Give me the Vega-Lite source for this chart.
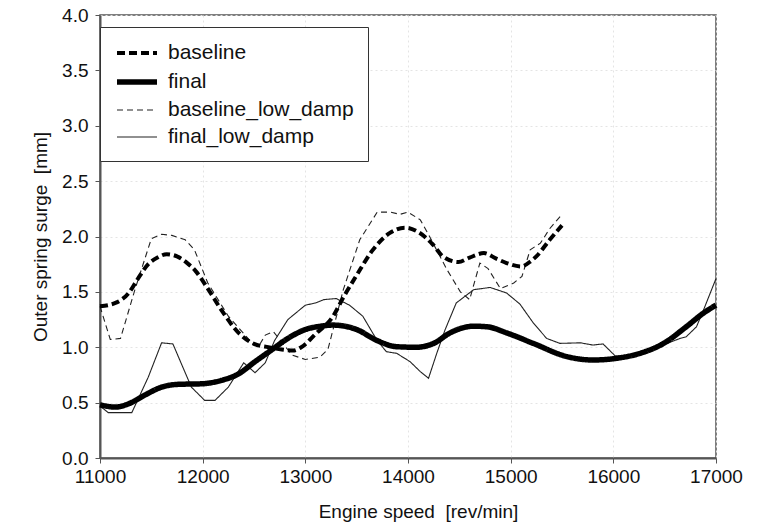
{
  "$schema": "https://vega.github.io/schema/vega-lite/v6.json",
  "width": 616,
  "height": 443,
  "autosize": {"type": "none"},
  "padding": {"left": 100, "top": 15, "right": 49, "bottom": 70},
  "background": "white",
  "config": {
    "font": "Liberation Sans",
    "view": {"stroke": "#555", "strokeWidth": 1.5},
    "axis": {
      "domainColor": "#555",
      "domainWidth": 2,
      "tickColor": "#555",
      "tickSize": 5,
      "labelColor": "#111",
      "labelFontSize": 19,
      "labelFlush": false,
      "titleColor": "#111",
      "titleFontSize": 19,
      "titleFontWeight": "normal",
      "grid": true,
      "gridColor": "#e4e4e4",
      "gridDash": [2, 3]
    },
    "legend": {
      "orient": "none",
      "legendX": 0,
      "legendY": 12,
      "padding": 14,
      "strokeColor": "#333",
      "fillColor": "white",
      "labelFontSize": 21,
      "labelColor": "#111",
      "labelLimit": 400,
      "symbolType": "M-1,0H3",
      "symbolSize": 400,
      "labelOffset": 28,
      "rowPadding": 6
    }
  },
  "data": {
    "values": [
      {"s": "baseline", "rpm": 11000, "v": 1.37},
      {"s": "baseline", "rpm": 11150, "v": 1.40},
      {"s": "baseline", "rpm": 11280, "v": 1.49},
      {"s": "baseline", "rpm": 11370, "v": 1.62},
      {"s": "baseline", "rpm": 11470, "v": 1.75},
      {"s": "baseline", "rpm": 11560, "v": 1.81},
      {"s": "baseline", "rpm": 11650, "v": 1.84},
      {"s": "baseline", "rpm": 11750, "v": 1.82},
      {"s": "baseline", "rpm": 11850, "v": 1.76},
      {"s": "baseline", "rpm": 11930, "v": 1.69},
      {"s": "baseline", "rpm": 12050, "v": 1.53},
      {"s": "baseline", "rpm": 12180, "v": 1.34},
      {"s": "baseline", "rpm": 12350, "v": 1.13},
      {"s": "baseline", "rpm": 12500, "v": 1.03},
      {"s": "baseline", "rpm": 12640, "v": 1.00},
      {"s": "baseline", "rpm": 12770, "v": 0.98},
      {"s": "baseline", "rpm": 12880, "v": 0.97},
      {"s": "baseline", "rpm": 12960, "v": 1.00},
      {"s": "baseline", "rpm": 13100, "v": 1.12},
      {"s": "baseline", "rpm": 13270, "v": 1.28},
      {"s": "baseline", "rpm": 13370, "v": 1.45},
      {"s": "baseline", "rpm": 13500, "v": 1.65},
      {"s": "baseline", "rpm": 13650, "v": 1.87},
      {"s": "baseline", "rpm": 13820, "v": 2.03},
      {"s": "baseline", "rpm": 13970, "v": 2.08},
      {"s": "baseline", "rpm": 14100, "v": 2.04},
      {"s": "baseline", "rpm": 14240, "v": 1.93},
      {"s": "baseline", "rpm": 14340, "v": 1.82},
      {"s": "baseline", "rpm": 14490, "v": 1.77},
      {"s": "baseline", "rpm": 14600, "v": 1.81},
      {"s": "baseline", "rpm": 14740, "v": 1.85},
      {"s": "baseline", "rpm": 14860, "v": 1.80},
      {"s": "baseline", "rpm": 14960, "v": 1.76},
      {"s": "baseline", "rpm": 15100, "v": 1.73},
      {"s": "baseline", "rpm": 15200, "v": 1.78},
      {"s": "baseline", "rpm": 15250, "v": 1.82},
      {"s": "baseline", "rpm": 15380, "v": 1.97},
      {"s": "baseline", "rpm": 15500, "v": 2.10},
      {"s": "final", "rpm": 11000, "v": 0.48},
      {"s": "final", "rpm": 11150, "v": 0.46},
      {"s": "final", "rpm": 11280, "v": 0.49},
      {"s": "final", "rpm": 11440, "v": 0.57},
      {"s": "final", "rpm": 11600, "v": 0.64},
      {"s": "final", "rpm": 11760, "v": 0.665},
      {"s": "final", "rpm": 11990, "v": 0.67},
      {"s": "final", "rpm": 12180, "v": 0.70},
      {"s": "final", "rpm": 12350, "v": 0.76},
      {"s": "final", "rpm": 12510, "v": 0.87},
      {"s": "final", "rpm": 12670, "v": 0.975},
      {"s": "final", "rpm": 12830, "v": 1.08},
      {"s": "final", "rpm": 13000, "v": 1.16},
      {"s": "final", "rpm": 13150, "v": 1.19},
      {"s": "final", "rpm": 13270, "v": 1.20},
      {"s": "final", "rpm": 13500, "v": 1.16},
      {"s": "final", "rpm": 13700, "v": 1.06},
      {"s": "final", "rpm": 13890, "v": 1.005},
      {"s": "final", "rpm": 14080, "v": 1.00},
      {"s": "final", "rpm": 14250, "v": 1.035},
      {"s": "final", "rpm": 14410, "v": 1.13},
      {"s": "final", "rpm": 14640, "v": 1.19},
      {"s": "final", "rpm": 14770, "v": 1.185},
      {"s": "final", "rpm": 14960, "v": 1.13},
      {"s": "final", "rpm": 15220, "v": 1.035},
      {"s": "final", "rpm": 15550, "v": 0.915},
      {"s": "final", "rpm": 15800, "v": 0.885},
      {"s": "final", "rpm": 16030, "v": 0.90},
      {"s": "final", "rpm": 16260, "v": 0.945},
      {"s": "final", "rpm": 16490, "v": 1.035},
      {"s": "final", "rpm": 16710, "v": 1.185},
      {"s": "final", "rpm": 16880, "v": 1.31},
      {"s": "final", "rpm": 17000, "v": 1.38},
      {"s": "baseline_low_damp", "rpm": 11000, "v": 1.37},
      {"s": "baseline_low_damp", "rpm": 11100, "v": 1.07},
      {"s": "baseline_low_damp", "rpm": 11200, "v": 1.08},
      {"s": "baseline_low_damp", "rpm": 11340, "v": 1.52},
      {"s": "baseline_low_damp", "rpm": 11500, "v": 1.98},
      {"s": "baseline_low_damp", "rpm": 11600, "v": 2.02},
      {"s": "baseline_low_damp", "rpm": 11700, "v": 2.01},
      {"s": "baseline_low_damp", "rpm": 11830, "v": 1.97},
      {"s": "baseline_low_damp", "rpm": 11920, "v": 1.88},
      {"s": "baseline_low_damp", "rpm": 12050, "v": 1.58},
      {"s": "baseline_low_damp", "rpm": 12250, "v": 1.28},
      {"s": "baseline_low_damp", "rpm": 12480, "v": 1.04},
      {"s": "baseline_low_damp", "rpm": 12540, "v": 1.00},
      {"s": "baseline_low_damp", "rpm": 12610, "v": 1.11},
      {"s": "baseline_low_damp", "rpm": 12690, "v": 1.14},
      {"s": "baseline_low_damp", "rpm": 12750, "v": 1.07},
      {"s": "baseline_low_damp", "rpm": 12870, "v": 0.93},
      {"s": "baseline_low_damp", "rpm": 13000, "v": 0.89},
      {"s": "baseline_low_damp", "rpm": 13140, "v": 0.91},
      {"s": "baseline_low_damp", "rpm": 13220, "v": 0.98},
      {"s": "baseline_low_damp", "rpm": 13370, "v": 1.52},
      {"s": "baseline_low_damp", "rpm": 13530, "v": 1.97},
      {"s": "baseline_low_damp", "rpm": 13700, "v": 2.22},
      {"s": "baseline_low_damp", "rpm": 13830, "v": 2.22},
      {"s": "baseline_low_damp", "rpm": 13920, "v": 2.20},
      {"s": "baseline_low_damp", "rpm": 14000, "v": 2.22},
      {"s": "baseline_low_damp", "rpm": 14120, "v": 2.15},
      {"s": "baseline_low_damp", "rpm": 14210, "v": 2.00},
      {"s": "baseline_low_damp", "rpm": 14380, "v": 1.70},
      {"s": "baseline_low_damp", "rpm": 14510, "v": 1.50},
      {"s": "baseline_low_damp", "rpm": 14600, "v": 1.43},
      {"s": "baseline_low_damp", "rpm": 14700, "v": 1.76},
      {"s": "baseline_low_damp", "rpm": 14780, "v": 1.71},
      {"s": "baseline_low_damp", "rpm": 14900, "v": 1.53},
      {"s": "baseline_low_damp", "rpm": 15030, "v": 1.58},
      {"s": "baseline_low_damp", "rpm": 15110, "v": 1.64},
      {"s": "baseline_low_damp", "rpm": 15190, "v": 1.88},
      {"s": "baseline_low_damp", "rpm": 15290, "v": 1.94},
      {"s": "baseline_low_damp", "rpm": 15380, "v": 2.07},
      {"s": "baseline_low_damp", "rpm": 15500, "v": 2.20},
      {"s": "final_low_damp", "rpm": 11000, "v": 0.47},
      {"s": "final_low_damp", "rpm": 11080, "v": 0.41},
      {"s": "final_low_damp", "rpm": 11310, "v": 0.41},
      {"s": "final_low_damp", "rpm": 11470, "v": 0.73},
      {"s": "final_low_damp", "rpm": 11600, "v": 1.04},
      {"s": "final_low_damp", "rpm": 11710, "v": 1.03},
      {"s": "final_low_damp", "rpm": 11890, "v": 0.64},
      {"s": "final_low_damp", "rpm": 12020, "v": 0.52},
      {"s": "final_low_damp", "rpm": 12120, "v": 0.52},
      {"s": "final_low_damp", "rpm": 12250, "v": 0.64},
      {"s": "final_low_damp", "rpm": 12400, "v": 0.86},
      {"s": "final_low_damp", "rpm": 12510, "v": 0.77},
      {"s": "final_low_damp", "rpm": 12610, "v": 0.86},
      {"s": "final_low_damp", "rpm": 12700, "v": 1.06},
      {"s": "final_low_damp", "rpm": 12830, "v": 1.25},
      {"s": "final_low_damp", "rpm": 13000, "v": 1.38},
      {"s": "final_low_damp", "rpm": 13100, "v": 1.40},
      {"s": "final_low_damp", "rpm": 13180, "v": 1.43},
      {"s": "final_low_damp", "rpm": 13300, "v": 1.44},
      {"s": "final_low_damp", "rpm": 13430, "v": 1.38},
      {"s": "final_low_damp", "rpm": 13560, "v": 1.28},
      {"s": "final_low_damp", "rpm": 13700, "v": 1.06},
      {"s": "final_low_damp", "rpm": 13790, "v": 0.96},
      {"s": "final_low_damp", "rpm": 13890, "v": 0.945},
      {"s": "final_low_damp", "rpm": 14020, "v": 0.87},
      {"s": "final_low_damp", "rpm": 14120, "v": 0.78},
      {"s": "final_low_damp", "rpm": 14200, "v": 0.72},
      {"s": "final_low_damp", "rpm": 14280, "v": 0.945},
      {"s": "final_low_damp", "rpm": 14360, "v": 1.155},
      {"s": "final_low_damp", "rpm": 14470, "v": 1.40},
      {"s": "final_low_damp", "rpm": 14640, "v": 1.52},
      {"s": "final_low_damp", "rpm": 14800, "v": 1.54},
      {"s": "final_low_damp", "rpm": 14960, "v": 1.49},
      {"s": "final_low_damp", "rpm": 15090, "v": 1.39},
      {"s": "final_low_damp", "rpm": 15220, "v": 1.22},
      {"s": "final_low_damp", "rpm": 15350, "v": 1.08},
      {"s": "final_low_damp", "rpm": 15480, "v": 1.035},
      {"s": "final_low_damp", "rpm": 15680, "v": 1.04},
      {"s": "final_low_damp", "rpm": 15800, "v": 1.02},
      {"s": "final_low_damp", "rpm": 15900, "v": 1.03},
      {"s": "final_low_damp", "rpm": 16020, "v": 0.92},
      {"s": "final_low_damp", "rpm": 16200, "v": 0.93},
      {"s": "final_low_damp", "rpm": 16400, "v": 0.99},
      {"s": "final_low_damp", "rpm": 16650, "v": 1.08},
      {"s": "final_low_damp", "rpm": 16710, "v": 1.095},
      {"s": "final_low_damp", "rpm": 16810, "v": 1.185},
      {"s": "final_low_damp", "rpm": 16880, "v": 1.34},
      {"s": "final_low_damp", "rpm": 17000, "v": 1.62}
    ]
  },
  "encoding": {
    "x": {
      "field": "rpm",
      "type": "quantitative",
      "scale": {"domain": [11000, 17000], "nice": false, "zero": false},
      "axis": {
        "title": "Engine speed\u00a0\u00a0[rev/min]",
        "values": [11000, 12000, 13000, 14000, 15000, 16000, 17000],
        "format": "d",
        "labelPadding": 4,
        "titleY": 44,
        "titleX": 318
      }
    },
    "y": {
      "field": "v",
      "type": "quantitative",
      "scale": {"domain": [0, 4], "nice": false},
      "axis": {
        "title": "Outer spring surge\u00a0\u00a0[mm]",
        "values": [0, 0.5, 1, 1.5, 2, 2.5, 3, 3.5, 4],
        "format": ".1f",
        "labelPadding": 7,
        "titleX": -50
      }
    },
    "color": {
      "field": "s",
      "type": "nominal",
      "scale": {
        "domain": ["baseline", "final", "baseline_low_damp", "final_low_damp"],
        "range": ["#000000", "#000000", "#222222", "#222222"]
      },
      "legend": {"title": null}
    },
    "strokeDash": {
      "field": "s",
      "type": "nominal",
      "scale": {
        "type": "ordinal",
        "domain": ["baseline", "final", "baseline_low_damp", "final_low_damp"],
        "range": [[8, 4], [1, 0], [6, 4], [1, 0]]
      },
      "legend": {"title": null}
    },
    "strokeWidth": {
      "field": "s",
      "type": "nominal",
      "scale": {
        "type": "ordinal",
        "domain": ["baseline", "final", "baseline_low_damp", "final_low_damp"],
        "range": [4, 5.5, 1.1, 1.1]
      },
      "legend": {"title": null}
    }
  },
  "layer": [
    {
      "transform": [{"filter": "datum.s == 'baseline_low_damp' || datum.s == 'final_low_damp'"}],
      "mark": {"type": "line", "interpolate": "linear"}
    },
    {
      "transform": [{"filter": "datum.s == 'baseline' || datum.s == 'final'"}],
      "mark": {"type": "line", "interpolate": "monotone"}
    }
  ]
}
